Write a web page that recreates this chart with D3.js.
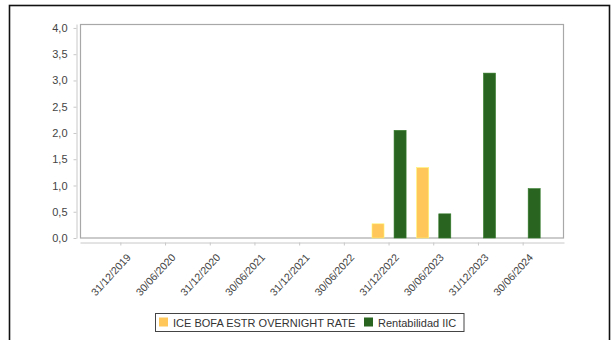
<!DOCTYPE html>
<html>
<head>
<meta charset="utf-8">
<script src="https://cdn.jsdelivr.net/npm/d3@7"></script>
<style>
  body { margin: 0; background: #fff; }
  text { font-family: "Liberation Sans", Arial, sans-serif; }
</style>
</head>
<body>
<div id="chart"></div>
<script>
// categories and series
var fechas = ["31/12/2019", "30/06/2020", "31/12/2020", "30/06/2021", "31/12/2021",
              "30/06/2022", "31/12/2022", "30/06/2023", "31/12/2023", "30/06/2024"]
var series = ["ICE BOFA ESTR OVERNIGHT RATE", "Rentabilidad IIC"]
var indice = [null, null, null, null, null, null, 0.27, 1.34, null, null]
var iic = [null, null, null, null, null, null, 2.05, 0.46, 3.14, 0.94]
var yTicks = [0, 0.5, 1, 1.5, 2, 2.5, 3, 3.5, 4]
var colores = ["#ffc75a", "#296421"]

var width = 611
var height = 340
var plotLeft = 80, plotRight = 564, plotTop = 24, plotBottom = 238

var svg = d3.select("#chart").append("svg")
    .attr("width", width)
    .attr("height", height)

// outer frame
svg.append("rect")
    .attr("x", 9.5).attr("y", 5.5)
    .attr("width", 600).attr("height", 345)
    .attr("fill", "none")
    .attr("stroke", "#111")
    .attr("stroke-width", 1.6)

var x = d3.scaleBand()
    .domain(fechas)
    .range([plotLeft, plotRight])
    .paddingInner(0)
    .paddingOuter(0.414)

var xSub = d3.scaleBand()
    .domain([0, 1])
    .range([0, x.bandwidth()])
    .paddingInner(0.455)
    .paddingOuter(0.24)

var y = d3.scaleLinear()
    .domain([0, 4.075])
    .range([plotBottom, plotTop])

var fmt = function(d) { return d3.format(".1f")(d).replace(".", ",") }

// plot frame
svg.append("rect")
    .attr("x", plotLeft + 0.5).attr("y", plotTop + 0.5)
    .attr("width", plotRight - plotLeft - 1).attr("height", plotBottom - plotTop - 0.5)
    .attr("fill", "#fff")
    .attr("stroke", "#a8a8a8")
    .attr("stroke-width", 1.2)

// y axis, offset left of the plot
var yAxis = svg.append("g")
    .attr("transform", "translate(76.5,0)")
    .call(d3.axisLeft(y).tickValues(yTicks).tickFormat(fmt).tickSize(3).tickSizeOuter(0))
yAxis.select(".domain").attr("stroke", "#c8c8c8")
yAxis.selectAll(".tick line").attr("stroke", "#c8c8c8")
yAxis.selectAll(".tick text")
    .attr("fill", "#444")
    .attr("font-size", 11)
    .attr("x", -9)

// x axis, offset below the plot
var xAxis = svg.append("g")
    .attr("transform", "translate(0,242.5)")
    .call(d3.axisBottom(x).tickSize(3).tickSizeOuter(0))
xAxis.select(".domain").attr("stroke", "#c8c8c8")
xAxis.selectAll(".tick line").attr("stroke", "#c8c8c8")
xAxis.selectAll(".tick text")
    .attr("fill", "#444")
    .attr("font-size", 10.5)
    .attr("text-anchor", "end")
    .attr("y", 0)
    .attr("dy", "0.35em")
    .attr("transform", "translate(8,13) rotate(-47)")

// bars
var datos = [indice, iic]
datos.forEach(function(serie, s) {
    svg.append("g").selectAll("rect")
        .data(fechas.map(function(f, i) { return {fecha: f, valor: serie[i]} })
                    .filter(function(d) { return d.valor !== null }))
        .enter()
        .append("rect")
        .attr("x", function(d) { return x(d.fecha) + xSub(s) })
        .attr("y", function(d) { return y(d.valor) })
        .attr("width", xSub.bandwidth())
        .attr("height", function(d) { return y(0) - y(d.valor) })
        .attr("fill", colores[s])
        .attr("stroke", d3.color(colores[s]).brighter(0.6))
        .attr("stroke-width", 0.6)
})

// legend
var leg = svg.append("g")
leg.append("rect")
    .attr("x", 155.5).attr("y", 313.5)
    .attr("width", 308.5).attr("height", 18)
    .attr("fill", "#fff")
    .attr("stroke", "#444")
var legX = [159, 364]
series.forEach(function(nombre, s) {
    leg.append("rect")
        .attr("x", legX[s]).attr("y", 317.5)
        .attr("width", 9).attr("height", 9)
        .attr("fill", colores[s])
    leg.append("text")
        .attr("x", legX[s] + 14)
        .attr("y", 326.5)
        .attr("font-size", 11)
        .attr("fill", "#333")
        .text(nombre)
})
</script>
</body>
</html>
